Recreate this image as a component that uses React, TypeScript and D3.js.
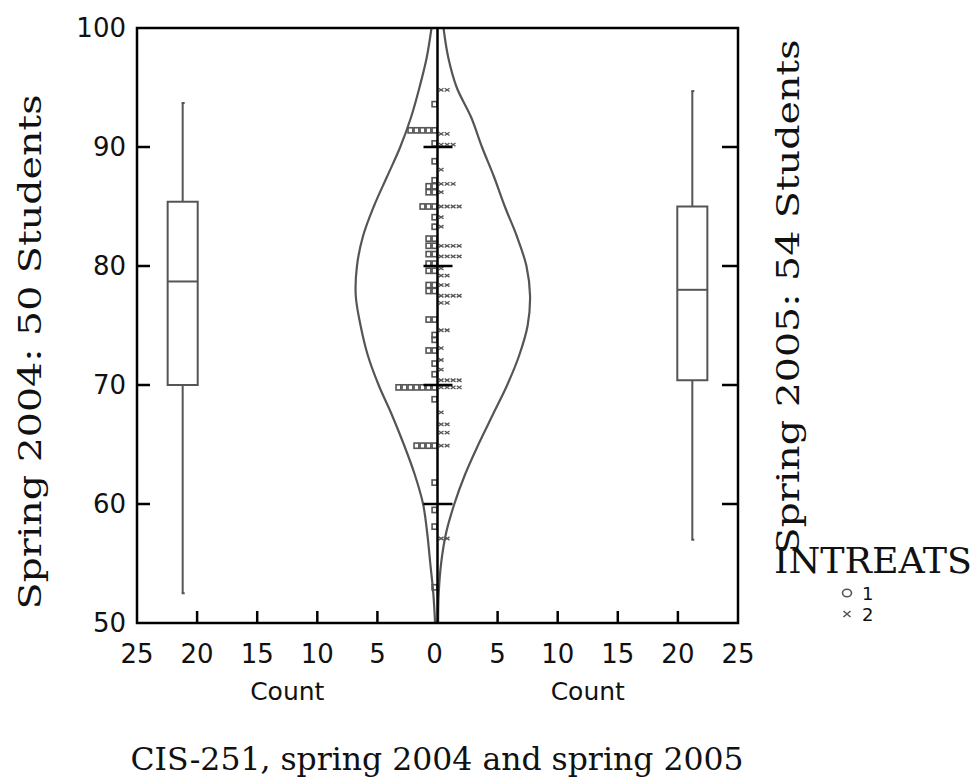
import React from 'react';
import * as d3 from 'd3';

// scores: [score, number of symbols]
const spring2004 = [
  [93.6, 1], [91.4, 5], [90.3, 1], [88.8, 1], [87.2, 1], [86.7, 2], [86.2, 2],
  [85.0, 3], [84.1, 1], [83.3, 1], [82.3, 2], [81.7, 2], [81.0, 2], [80.2, 2],
  [79.6, 2], [78.4, 2], [77.9, 2], [75.5, 2], [74.2, 1], [73.8, 1], [72.9, 2],
  [71.8, 1], [70.9, 1], [69.8, 7], [68.8, 1], [64.9, 4], [61.8, 1], [59.5, 1],
  [58.1, 1], [53.0, 1],
];
const spring2005 = [
  [94.8, 2], [91.1, 2], [90.2, 3], [88.1, 1], [86.9, 3], [86.2, 1], [85.0, 4],
  [84.1, 1], [83.3, 1], [81.7, 4], [80.8, 4], [79.8, 1], [79.2, 2], [78.4, 2],
  [77.5, 4], [76.9, 2], [74.6, 2], [73.1, 1], [72.1, 1], [71.3, 1], [70.4, 4],
  [69.8, 4], [67.7, 1], [66.7, 2], [66.0, 2], [64.9, 2], [57.1, 2],
];

// fitted curves, read as [score, count]
const curve2004 = [
  [100, 0.5], [97.5, 0.9], [95, 1.5], [92.5, 2.2], [90, 3.1], [87.5, 4.2], [85, 5.3],
  [82.5, 6.2], [80, 6.7], [77.5, 6.8], [75, 6.4], [72.5, 5.8], [70, 4.9], [67.5, 3.8],
  [65, 2.8], [62.5, 1.9], [60, 1.2], [57.5, 0.85], [55, 0.6], [52.5, 0.35], [50, 0.2],
];
const curve2005 = [
  [100, 0.5], [97.5, 0.9], [95, 1.6], [92.5, 2.8], [90, 3.7], [87.5, 4.7], [85, 5.6],
  [82.5, 6.6], [80, 7.4], [77.5, 7.7], [75, 7.5], [72.5, 6.8], [70, 5.8], [67.5, 4.6],
  [65, 3.4], [62.5, 2.3], [60, 1.4], [57.5, 0.7], [55, 0.3], [52.5, 0.1], [50, 0.05],
];

// box plots: [low, q1, median, q3, high]
const box2004 = [52.5, 70, 78.7, 85.4, 93.7];
const box2005 = [57, 70.4, 78, 85, 94.7];

const yTicks = [50, 60, 70, 80, 90, 100];
const countTicks = [0, 5, 10, 15, 20, 25];
const legendItems = ['1', '2'];

const W = 974;
const H = 781;
const SANS = '"DejaVu Sans", sans-serif';
const SERIF = '"DejaVu Serif", serif';
const GREY = '#555';

const App = () => {
  const left = 137, right = 738, top = 28, bottom = 623;
  const mid = 437.5;

  const y = d3.scaleLinear().domain([50, 100]).range([bottom, top]);
  const xL = d3.scaleLinear().domain([25, 0]).range([left, mid]);
  const xR = d3.scaleLinear().domain([0, 25]).range([mid, right]);

  const lineL = d3.line().x((d) => xL(d[1])).y((d) => y(d[0])).curve(d3.curveCatmullRom);
  const lineR = d3.line().x((d) => xR(d[1])).y((d) => y(d[0])).curve(d3.curveCatmullRom);

  const boxCenter = 21.2;
  const boxHalf = 1.25;

  const drawBox = (b, xs, key) => {
    const [lo, q1, med, q3, hi] = b;
    const cx = xs(boxCenter);
    const x0 = Math.min(xs(boxCenter - boxHalf), xs(boxCenter + boxHalf));
    const x1 = Math.max(xs(boxCenter - boxHalf), xs(boxCenter + boxHalf));
    return (
      <g key={key} stroke={GREY} strokeWidth={2} fill="none">
        <line x1={cx} x2={cx} y1={y(hi)} y2={y(q3)} />
        <line x1={cx} x2={cx} y1={y(q1)} y2={y(lo)} />
        <line x1={cx - 1} x2={cx + 2} y1={y(hi)} y2={y(hi)} />
        <line x1={cx - 1} x2={cx + 2} y1={y(lo)} y2={y(lo)} />
        <rect x={x0} y={y(q3)} width={x1 - x0} height={y(q1) - y(q3)} />
        <line x1={x0} x2={x1} y1={y(med)} y2={y(med)} />
      </g>
    );
  };

  const step = 0.5;
  const squares = [];
  spring2004.forEach(([s, n]) => {
    for (let i = 0; i < n; i++) {
      const xa = xL(step * (i + 1));
      const xb = xL(step * i);
      squares.push(
        <rect key={`s${s}-${i}`} x={xa + 0.6} y={y(s) - 2.6} width={xb - xa - 1.2} height={5.2}
          fill="none" stroke={GREY} strokeWidth={1.6} />
      );
    }
  });
  const crosses = [];
  spring2005.forEach(([s, n]) => {
    for (let i = 0; i < n; i++) {
      const cx = xR(step * i + 0.3);
      const cy = y(s);
      crosses.push(
        <path key={`c${s}-${i}`} d={`M${cx - 2.4},${cy - 1.6}L${cx + 2.4},${cy + 1.6}M${cx - 2.4},${cy + 1.6}L${cx + 2.4},${cy - 1.6}`}
          stroke={GREY} strokeWidth={1.3} fill="none" />
      );
    }
  });

  const innerTicks = [60, 70, 80, 90];
  const sideTicks = [5, 10, 15, 20];

  return (
    <svg width={W} height={H} style={{ position: 'absolute', left: 0, top: 0, background: '#fff' }}>
      <defs>
        <clipPath id="plot">
          <rect x={left} y={top} width={right - left} height={bottom - top} />
        </clipPath>
      </defs>
      <rect width={W} height={H} fill="#fff" />

      {drawBox(box2004, xL, 'b4')}
      {drawBox(box2005, xR, 'b5')}

      <g clipPath="url(#plot)">
        <path d={lineL(curve2004)} fill="none" stroke={GREY} strokeWidth={2.2} />
        <path d={lineR(curve2005)} fill="none" stroke={GREY} strokeWidth={2.2} />
        {squares}
        {crosses}
      </g>

      {/* frame and axes */}
      <rect x={left} y={top} width={right - left} height={bottom - top} fill="none" stroke="#000" strokeWidth={2.5} />
      <line x1={mid} x2={mid} y1={top} y2={bottom} stroke="#000" strokeWidth={2.5} />
      {innerTicks.map((t) => (
        <g key={`it${t}`} stroke="#000" strokeWidth={2.5}>
          <line x1={left} x2={left + 13} y1={y(t)} y2={y(t)} />
          <line x1={right - 16} x2={right} y1={y(t)} y2={y(t)} />
          <line x1={mid - 14} x2={mid + 15} y1={y(t)} y2={y(t)} />
        </g>
      ))}
      {sideTicks.map((t) => (
        <g key={`st${t}`} stroke="#000" strokeWidth={2.5}>
          <line x1={xL(t)} x2={xL(t)} y1={bottom} y2={bottom - 12} />
          <line x1={xR(t)} x2={xR(t)} y1={bottom} y2={bottom - 12} />
        </g>
      ))}

      {/* tick labels */}
      <g fontFamily={SANS} fontSize={26} fill="#111">
        {yTicks.map((t) => (
          <text key={`yl${t}`} x={126} y={y(t)} dy="0.36em" textAnchor="end">{t}</text>
        ))}
        {countTicks.map((t) => (
          <text key={`xl${t}`} x={xL(t) - (t === 0 ? 3 : 0)} y={663} textAnchor="middle">{t}</text>
        ))}
        {countTicks.filter((t) => t > 0).map((t) => (
          <text key={`xr${t}`} x={xR(t)} y={663} textAnchor="middle">{t}</text>
        ))}
      </g>
      <g fontFamily={SANS} fontSize={25} fill="#111">
        <text x={xL(12.5)} y={700} textAnchor="middle">Count</text>
        <text x={xR(12.5)} y={700} textAnchor="middle">Count</text>
      </g>

      {/* titles */}
      <g fontFamily={SERIF} fill="#111">
        <text transform="translate(41,352) rotate(-90)" textAnchor="middle" fontSize={31}
          textLength={515} lengthAdjust="spacingAndGlyphs">Spring 2004: 50 Students</text>
        <text transform="translate(799,297) rotate(-90)" textAnchor="middle" fontSize={31}
          textLength={515} lengthAdjust="spacingAndGlyphs">Spring 2005: 54 Students</text>
        <text x={437} y={770} textAnchor="middle" fontSize={31}
          textLength={613} lengthAdjust="spacingAndGlyphs">CIS-251, spring 2004 and spring 2005</text>
        <text x={774} y={573} fontSize={35} textLength={198} lengthAdjust="spacingAndGlyphs">INTREATS</text>
      </g>

      {/* legend */}
      {legendItems.map((k, i) => {
        const cy = 593 + i * 21;
        return (
          <g key={`lg${k}`}>
            {i === 0 ? (
              <ellipse cx={847} cy={cy} rx={4.5} ry={3.8} fill="none" stroke={GREY} strokeWidth={1.6} />
            ) : (
              <path d={`M${843.5},${cy - 3}L${850.5},${cy + 3}M${843.5},${cy + 3}L${850.5},${cy - 3}`}
                stroke={GREY} strokeWidth={1.6} />
            )}
            <text x={862} y={cy + 7} fontFamily={SANS} fontSize={18} fill="#111">{k}</text>
          </g>
        );
      })}
    </svg>
  );
};

export default App;
